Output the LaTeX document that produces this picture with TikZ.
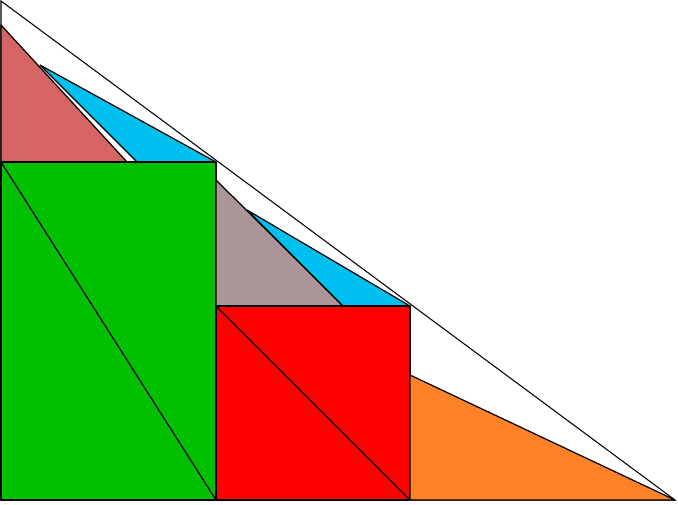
\documentclass[tikz,border=0pt]{standalone}
\definecolor{rose}{RGB}{215,100,100}
\definecolor{sky}{RGB}{0,192,240}
\definecolor{leaf}{RGB}{0,192,0}
\definecolor{taupe}{RGB}{170,150,150}
\definecolor{tang}{RGB}{255,130,40}
\begin{document}
\begin{tikzpicture}[x=0.02cm,y=-0.02cm,piece/.style={draw=black,line width=0.7pt,line join=round}]
\useasboundingbox (0,0) rectangle (678,504);

% outer triangle
\draw[line width=0.6pt] (1,1) -- (675,500) -- (1,500) -- cycle;

% top left corner
\draw[piece,fill=rose] (1,25) -- (127,162) -- (1,162) -- cycle;
\draw[piece,fill=sky] (40,65) -- (216,162) -- (137,162) -- cycle;

% big square
\draw[piece,fill=leaf] (1,162) rectangle (216,500);
\draw[piece] (1,162) -- (216,500);

% middle step
\draw[piece,fill=taupe] (216,180) -- (343,306) -- (216,306) -- cycle;
\draw[piece,fill=sky] (247,210) -- (410,306) -- (343,306) -- cycle;

% small square
\draw[piece,fill=red] (216,306) rectangle (410,500);
\draw[piece] (216,306) -- (410,500);

% last piece
\draw[piece,fill=tang] (410,375) -- (675,500) -- (410,500) -- cycle;
\end{tikzpicture}
\end{document}
